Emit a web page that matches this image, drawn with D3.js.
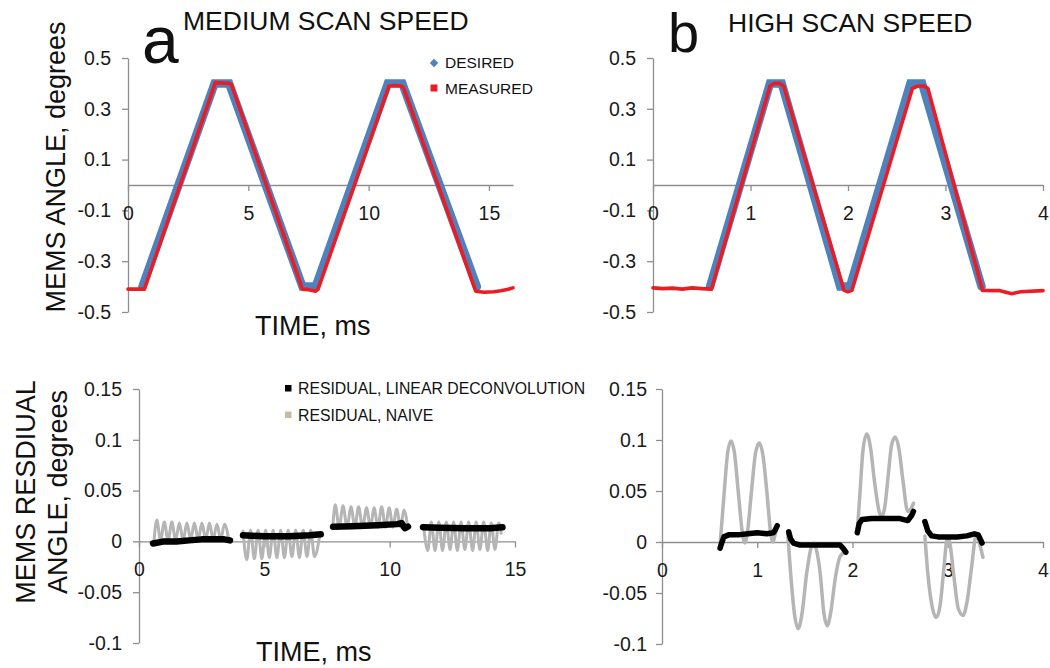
<!DOCTYPE html>
<html>
<head>
<meta charset="utf-8">
<script src="https://cdn.jsdelivr.net/npm/d3@7"></script>
<style>
  html, body { margin: 0; padding: 0; background: #fff; }
  svg { display: block; font-family: "Liberation Sans", Arial, sans-serif; }
  .axis path, .axis line { stroke: #8f8f8f; stroke-width: 1.3; }
  .axis text { fill: #1a1a1a; font-size: 19.5px; }
</style>
</head>
<body>
<svg id="fig" width="1050" height="668"></svg>
<script>
// ---- tick values ----
const angleTicks = [-0.5, -0.3, -0.1, 0.1, 0.3, 0.5];
const residualTicks = [-0.1, -0.05, 0, 0.05, 0.1, 0.15];
const mediumTimeTicks = [0, 5, 10, 15];
const highTimeTicks = [0, 1, 2, 3, 4];

// ---- (a) medium scan speed: angle, [time ms, degrees] ----
const mediumDesired = [[0.6,-0.4],[3.6,0.4],[4.2,0.4],[7.25,-0.4],[7.8,-0.4],[10.8,0.4],[11.4,0.4],[14.5,-0.4]];
const mediumMeasured = [[0,-0.41],[0.3,-0.41],[0.55,-0.41],[0.68,-0.41],[3.63,0.403],[3.8,0.402],[4.2,0.4],[4.3,0.395],
  [7.25,-0.41],[7.5,-0.412],[7.8,-0.418],[7.9,-0.41],[10.85,0.39],[11.1,0.392],[11.35,0.39],[11.45,0.383],
  [14.45,-0.418],[14.8,-0.422],[15.2,-0.42],[15.5,-0.416],[15.8,-0.41],[16,-0.405]];

// ---- (b) high scan speed: angle ----
const highDesired = [[0.585,-0.4],[1.2,0.4],[1.32,0.4],[1.92,-0.4],[2.02,-0.4],[2.64,0.4],[2.76,0.4],[3.37,-0.4]];
const highMeasured = [[0,-0.405],[0.1,-0.408],[0.2,-0.406],[0.3,-0.41],[0.4,-0.405],[0.5,-0.408],[0.6,-0.41],
  [1.2,0.39],[1.24,0.4],[1.3,0.4],[1.34,0.39],[1.96,-0.415],[2.0,-0.42],[2.04,-0.415],
  [2.66,0.38],[2.72,0.39],[2.78,0.39],[2.82,0.38],[3.38,-0.415],[3.56,-0.416],[3.68,-0.428],[3.77,-0.42],[4,-0.416]];

// ---- (a) residuals, one array per scan line ----
const mediumNaive = [
  [[0.60,0.001],[0.71,0.021],[0.86,0.001],[1.01,0.019],[1.16,0.001],[1.31,0.019],[1.46,0.001],[1.61,0.018],[1.76,0.001],[1.91,0.018],[2.06,0.002],[2.21,0.018],[2.36,0.002],[2.51,0.018],[2.66,0.002],[2.81,0.018],[2.96,0.002],[3.11,0.017],[3.26,0.002],[3.41,0.017],[3.58,0.002]],
  [[4.15,0.010],[4.30,-0.018],[4.45,0.011],[4.60,-0.017],[4.75,0.011],[4.90,-0.017],[5.05,0.011],[5.20,-0.016],[5.35,0.011],[5.50,-0.016],[5.65,0.011],[5.80,-0.016],[5.95,0.011],[6.10,-0.015],[6.25,0.011],[6.40,-0.016],[6.55,0.011],[6.70,-0.015],[6.85,0.011],[7.00,-0.015],[7.20,0.004]],
  [[7.74,0.018],[7.83,0.036],[7.98,0.014],[8.14,0.035],[8.30,0.014],[8.46,0.034],[8.61,0.014],[8.76,0.034],[8.92,0.014],[9.08,0.033],[9.23,0.014],[9.38,0.033],[9.53,0.014],[9.68,0.034],[9.83,0.014],[9.98,0.033],[10.13,0.014],[10.28,0.032],[10.43,0.014],[10.57,0.031],[10.72,0.014]],
  [[11.35,0.016],[11.52,-0.009],[11.66,0.019],[11.81,-0.009],[11.96,0.019],[12.11,-0.009],[12.26,0.019],[12.41,-0.008],[12.55,0.019],[12.70,-0.009],[12.85,0.019],[13.00,-0.008],[13.15,0.019],[13.31,-0.009],[13.45,0.019],[13.60,-0.008],[13.75,0.019],[13.91,-0.009],[14.05,0.018],[14.20,-0.008],[14.35,0.018],[14.45,0.008]]
];
const mediumDeconv = [
  [[0.56,-0.002],[1.0,0.0],[1.5,0.0],[2.0,0.001],[2.5,0.002],[3.0,0.002],[3.4,0.002],[3.63,0.001]],
  [[4.15,0.006],[5.0,0.005],[6.0,0.005],[6.8,0.006],[7.25,0.007]],
  [[7.74,0.0145],[8.5,0.015],[9.5,0.016],[10.3,0.017],[10.48,0.018],[10.6,0.013],[10.73,0.0145]],
  [[11.33,0.014],[12.0,0.0135],[13.0,0.013],[14.0,0.013],[14.5,0.014]]
];

// ---- (b) residuals ----
const highNaive = [
  [[0.61,-0.002],[0.65,0.045],[0.69,0.088],[0.725,0.099],[0.76,0.088],[0.80,0.05],[0.85,0.005],[0.87,-0.001],[0.89,0.005],[0.94,0.05],[0.98,0.086],[1.02,0.097],[1.06,0.085],[1.10,0.05],[1.145,0.006],[1.165,0.0],[1.185,0.006],[1.20,0.012]],
  [[1.32,0.008],[1.35,-0.03],[1.39,-0.07],[1.43,-0.085],[1.47,-0.07],[1.52,-0.03],[1.57,-0.004],[1.59,-0.001],[1.61,-0.004],[1.66,-0.03],[1.70,-0.07],[1.735,-0.082],[1.77,-0.07],[1.82,-0.035],[1.87,-0.014],[1.92,-0.01]],
  [[2.05,0.01],[2.08,0.05],[2.11,0.09],[2.15,0.106],[2.19,0.092],[2.23,0.06],[2.28,0.03],[2.31,0.025],[2.34,0.035],[2.38,0.07],[2.41,0.095],[2.45,0.103],[2.49,0.09],[2.53,0.06],[2.58,0.03],[2.61,0.032],[2.64,0.038]],
  [[2.76,0.006],[2.79,-0.03],[2.84,-0.065],[2.88,-0.074],[2.92,-0.062],[2.96,-0.025],[2.99,0.002],[3.0,0.004],[3.02,0.0],[3.06,-0.03],[3.11,-0.065],[3.16,-0.072],[3.20,-0.06],[3.25,-0.025],[3.29,0.004],[3.31,0.007],[3.33,0.0],[3.37,-0.015]]
];
const highDeconv = [
  [[0.61,-0.006],[0.63,0.0],[0.65,0.005],[0.7,0.007],[0.8,0.007],[0.9,0.008],[1.0,0.009],[1.1,0.008],[1.17,0.009],[1.19,0.012],[1.21,0.016]],
  [[1.33,0.01],[1.35,0.003],[1.38,-0.001],[1.45,-0.003],[1.6,-0.003],[1.75,-0.003],[1.87,-0.003],[1.9,-0.006],[1.93,-0.01]],
  [[2.05,0.009],[2.07,0.018],[2.1,0.022],[2.2,0.023],[2.35,0.023],[2.5,0.023],[2.58,0.021],[2.62,0.026],[2.64,0.03]],
  [[2.76,0.02],[2.79,0.011],[2.83,0.006],[2.9,0.005],[3.0,0.005],[3.1,0.005],[3.2,0.006],[3.28,0.008],[3.32,0.007],[3.36,-0.001]]
];

const BLUE = "#4f81bd", RED = "#ec1c24", GRAY = "#b5b5b5", BLACK = "#000", TAN = "#c6bca6";
const svg = d3.select("#fig");
const fmt = d => String(d);

// one panel: axes through zero, y axis on the left edge
function panel(xDom, xRange, yDom, yRange, xTicks, yTicks, padY) {
  const x = d3.scaleLinear().domain(xDom).range(xRange);
  const y = d3.scaleLinear().domain(yDom).range(yRange);
  svg.append("g").attr("class", "axis")
    .attr("transform", `translate(${xRange[0]},0)`)
    .call(d3.axisLeft(y).tickValues(yTicks).tickFormat(fmt).tickSize(6).tickSizeOuter(0).tickPadding(padY));
  svg.append("g").attr("class", "axis")
    .attr("transform", `translate(0,${y(0)})`)
    .call(d3.axisBottom(x).tickValues(xTicks).tickFormat(fmt).tickSize(6).tickSizeOuter(0).tickPadding(15));
  return { x, y };
}

function draw(p, data, color, width, curve, join) {
  const line = d3.line().x(d => p.x(d[0])).y(d => p.y(d[1])).curve(curve || d3.curveLinear);
  svg.append("path").attr("d", line(data)).attr("fill", "none")
    .attr("stroke", color).attr("stroke-width", width)
    .attr("stroke-linejoin", join || "round").attr("stroke-linecap", "round");
}

// (a) angle
const pA = panel([0, 16], [128, 513], [-0.5, 0.5], [312, 58], mediumTimeTicks, angleTicks, 11);
draw(pA, mediumDesired, BLUE, 8.5, null, "miter");
draw(pA, mediumMeasured, RED, 3.6);

// (b) angle
const pB = panel([0, 4], [653, 1043], [-0.5, 0.5], [312, 58], highTimeTicks, angleTicks, 11);
draw(pB, highDesired, BLUE, 8.5, null, "miter");
draw(pB, highMeasured, RED, 3.6);

// (a) residual
const pC = panel([0, 15], [139, 515], [-0.1, 0.15], [643, 389], mediumTimeTicks, residualTicks, 11);
mediumNaive.forEach(s => draw(pC, s, GRAY, 3, d3.curveMonotoneX));
mediumDeconv.forEach(s => draw(pC, s, BLACK, 6.5));

// (b) residual
const pD = panel([0, 4], [662, 1043], [-0.1, 0.15], [644, 389], highTimeTicks, residualTicks, 9);
highNaive.forEach(s => draw(pD, s, GRAY, 3.5, d3.curveMonotoneX));
highDeconv.forEach(s => draw(pD, s, BLACK, 5.5));

// ---- texts ----
function text(x, y, str, size, opts = {}) {
  const t = svg.append("text").attr("x", x).attr("y", y).text(str)
    .attr("font-size", size).attr("fill", "#111")
    .attr("text-anchor", opts.anchor || "start");
  if (opts.rotate) t.attr("transform", `rotate(-90,${x},${y})`);
  return t;
}
text(142, 63, "a", 66);
text(668, 52, "b", 56);
text(183, 30, "MEDIUM SCAN SPEED", 26.5);
text(728, 32, "HIGH SCAN SPEED", 26.5);
text(65, 167, "MEMS ANGLE, degrees", 27, { anchor: "middle", rotate: true });
text(255, 335, "TIME, ms", 27);
text(35, 492, "MEMS RESDIUAL", 27, { anchor: "middle", rotate: true });
text(67, 492, "ANGLE, degrees", 27, { anchor: "middle", rotate: true });
text(256, 661, "TIME, ms", 27);

// legends
svg.append("path").attr("d", d3.symbol(d3.symbolDiamond2, 45)())
  .attr("transform", "translate(434,63)").attr("fill", BLUE);
text(445, 68, "DESIRED", 15.5);
svg.append("rect").attr("x", 430.5).attr("y", 84.5).attr("width", 7).attr("height", 7).attr("fill", RED);
text(445, 94, "MEASURED", 15.5);

svg.append("rect").attr("x", 285).attr("y", 385).attr("width", 6.5).attr("height", 6.5).attr("fill", BLACK);
text(298, 394, "RESIDUAL, LINEAR DECONVOLUTION", 15.8);
svg.append("rect").attr("x", 285).attr("y", 411.5).attr("width", 6.5).attr("height", 6.5).attr("fill", TAN);
text(298, 421, "RESIDUAL, NAIVE", 15.8);
</script>
</body>
</html>
